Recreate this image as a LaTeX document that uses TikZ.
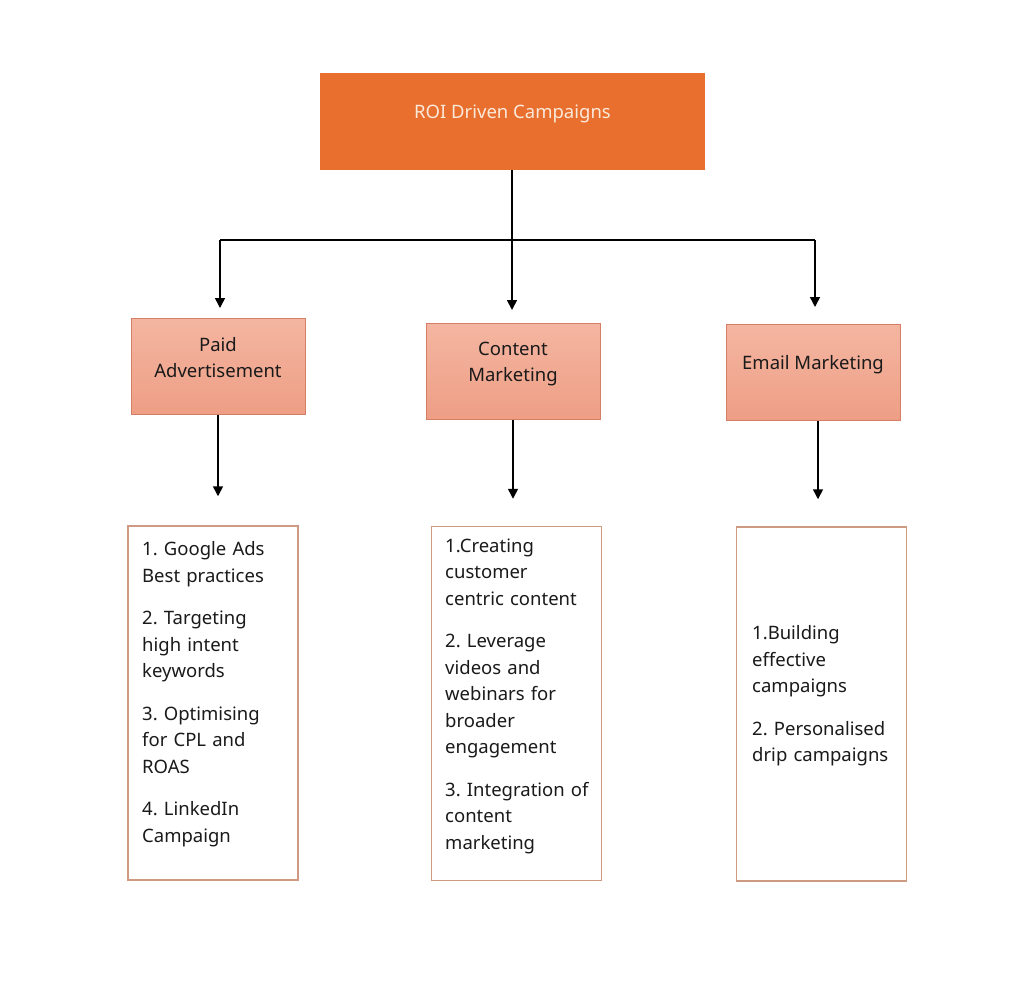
\documentclass[tikz,border=0pt]{standalone}
\usepackage{fontspec}
\setmainfont{Noto Sans}
\frenchspacing
\usetikzlibrary{arrows.meta,positioning}
\definecolor{topfill}{HTML}{E86F2E}
\definecolor{toptext}{HTML}{FBE9DA}
\definecolor{subtop}{HTML}{F4B6A1}
\definecolor{subbot}{HTML}{EE9E85}
\definecolor{subline}{HTML}{D47E66}
\definecolor{listline}{HTML}{CF9A82}
\definecolor{ink}{HTML}{1A1A1A}
\tikzset{
  x=1pt, y=-1pt,
  topbox/.style={draw=none, fill=topfill, minimum width=385pt, minimum height=97pt, inner sep=0pt},
  subbox/.style={draw=subline, line width=1pt, top color=subtop, bottom color=subbot, minimum width=174pt, minimum height=96pt, inner sep=0pt},
  listbox/.style={draw=listline, line width=1.5pt, minimum width=170pt, minimum height=354pt, inner sep=0pt},
  subtext/.style={font=\fontsize{18.5}{26}\selectfont, text=ink, align=center},
  listtext/.style={font=\fontsize{18.5}{26.5}\selectfont, text=ink, align=left, text width=160pt, anchor=west, inner sep=0pt},
  arr/.style={-{Triangle[width=10pt,length=10pt]}, line width=1.5pt, black},
  ln/.style={line width=1.5pt, black}
}
\begin{document}
\begin{tikzpicture}
\useasboundingbox (0,0) rectangle (1024,1002);
\fill[white] (0,0) rectangle (1024,1002);

\node[topbox] (top) at (512.5,121.5) {};
\node[font=\fontsize{18.5}{20}\selectfont, text=toptext] (toptxt) at (512.5,114) {ROI Driven Campaigns};

\node[subbox] (paid) at (218,366) {};
\node[subtext] (paidtxt) at (218,358) {Paid\\Advertisement};
\node[subbox] (cont) at (513,371.5) {};
\node[subtext] (conttxt) at (513,364) {Content\\Marketing};
\node[subbox] (mail) at (813,372.5) {};
\node[subtext] (mailtxt) at (813,365) {Email Marketing};

\node[listbox] (l1) at (213,703) {};
\node[listbox] (l2) at (516.5,703.5) {};
\node[listbox] (l3) at (821.5,704) {};

\node[listtext] (t1) at (142,694) {1. Google Ads\\Best practices\\[16pt]2. Targeting\\high intent\\keywords\\[16pt]3. Optimising\\for CPL and\\ROAS\\[16pt]4. LinkedIn\\Campaign};
\node[listtext] (t2) at (445,696) {1.Creating\\customer\\centric content\\[16pt]2. Leverage\\videos and\\webinars for\\broader\\engagement\\[16pt]3. Integration of\\content\\marketing};
\node[listtext, text width=150pt] (t3) at (752,696) {1.Building\\effective\\campaigns\\[16pt]2. Personalised\\drip campaigns};

\coordinate (jc) at (512,240);
\coordinate (jl) at (220,240);
\coordinate (jr) at (815,240);
\draw[ln] (top.south -| jc) -- (jc);
\draw[ln] (jl) -- (jr);
\draw[arr] (jl) -- (220,308) coordinate (al);
\draw[arr] (jc) -- (512,310) coordinate (ac);
\draw[arr] (jr) -- (815,307) coordinate (ar);

\draw[arr, shorten >=29pt] (paid.south) -- (l1.north -| paid.south);
\draw[arr, shorten >=27pt] (cont.south) -- (l2.north -| cont.south);
\draw[arr, shorten >=27pt] ([xshift=5pt]mail.south) -- ([xshift=5pt]l3.north -| mail.south);
\end{tikzpicture}
\end{document}
